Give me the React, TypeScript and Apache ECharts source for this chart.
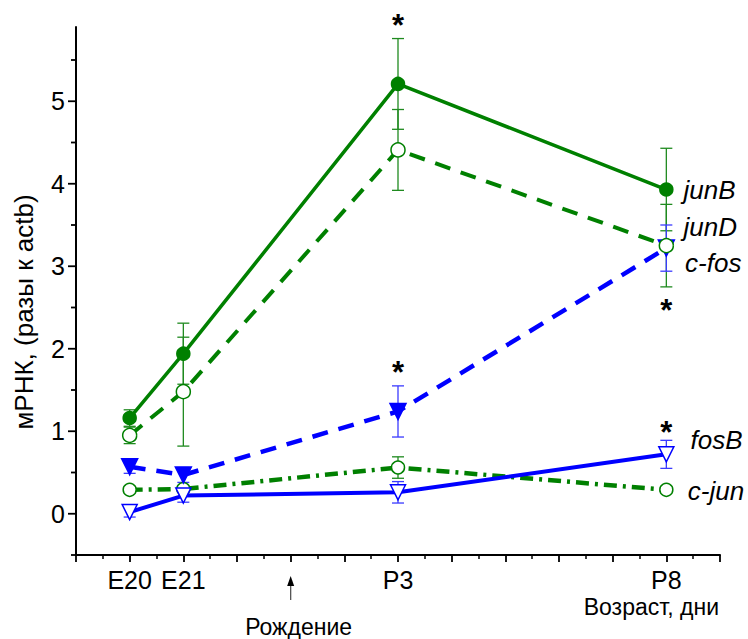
import React, { useEffect, useRef } from "react";
import * as echarts from "echarts";

// ---- data ----
const xValues = [0, 1, 5, 10];
const xTickValues = [0, 1, 5, 10];
const xTickLabels = ["E20", "E21", "P3", "P8"];
const yTickValues = [-0.5, 0, 0.5, 1, 1.5, 2, 2.5, 3, 3.5, 4, 4.5, 5, 5.5];

const junB = [1.16, 1.94, 5.21, 3.93];
const junBErr = [0.1, 0.37, 0.55, 0.5];
const junD = [0.95, 1.48, 4.41, 3.25];
const junDErr = [0.1, 0.66, 0.49, 0.5];
const cFos = [0.57, 0.47, 1.24, 3.22];
const cFosErr = [0.08, 0.09, 0.31, 0.28];
const fosB = [0.02, 0.22, 0.26, 0.72];
const fosBErr = [0.06, 0.08, 0.13, 0.17];
const cJun = [0.29, 0.3, 0.56, 0.29];
const cJunErr = [0.03, 0.03, 0.13, 0.03];

const seriesNames = ["junB", "junD", "c-fos", "fosB", "c-jun"];
const nameLabelX = [10.32, 10.32, 10.35, 10.45, 10.4];
const nameLabelY = [3.92, 3.47, 3.04, 0.9, 0.28];

const starX = [5, 5, 10, 10];
const starY = [6.01, 1.81, 2.56, 1.08];

const birthX = [3];
const birthLabel = "Рождение";
const xTitle = "Возраст, дни";
const yTitle = "мРНК, (разы к actb)";

const X_MIN = -1;
const X_MAX = 11;
const Y_MIN = -0.5;
const Y_MAX = 5.9;

const GREEN = "#008000";
const BLUE = "#0000ff";
const FONT = "'Liberation Sans', Arial, sans-serif";

function lineSeries(
  name: string,
  vals: number[],
  color: string,
  type: any,
  width: number,
  symbol: string,
  rotate: number,
  size: number,
  filled: boolean
) {
  return {
    name,
    type: "line",
    data: xValues.map((x, i) => [x, vals[i]]),
    symbol,
    symbolRotate: rotate,
    symbolSize: size,
    showSymbol: true,
    z: 5,
    lineStyle: { color, width, type },
    itemStyle: {
      color: filled ? color : "#ffffff",
      borderColor: color,
      borderWidth: 1.5,
    },
  };
}

function errorSeries(vals: number[], errs: number[], color: string) {
  return {
    type: "custom",
    z: 3,
    data: xValues.map((x, i) => [x, vals[i], errs[i]]),
    renderItem: (_p: any, api: any) => {
      const x = api.value(0);
      const y = api.value(1);
      const e = api.value(2);
      const top = api.coord([x, y + e]);
      const bot = api.coord([x, y - e]);
      const hw = 6;
      const st = { stroke: color, lineWidth: 1.3 };
      return {
        type: "group",
        children: [
          { type: "line", shape: { x1: top[0], y1: top[1], x2: bot[0], y2: bot[1] }, style: st },
          { type: "line", shape: { x1: top[0] - hw, y1: top[1], x2: top[0] + hw, y2: top[1] }, style: st },
          { type: "line", shape: { x1: bot[0] - hw, y1: bot[1], x2: bot[0] + hw, y2: bot[1] }, style: st },
        ],
      };
    },
  };
}

export default function App() {
  const ref = useRef<HTMLDivElement>(null);

  useEffect(() => {
    if (!ref.current) return;
    const chart = echarts.init(ref.current, null, { renderer: "svg" });
    const option: any = {
      animation: false,
      backgroundColor: "#ffffff",
      grid: { left: 76, right: 28, top: 27, bottom: 84, containLabel: false },
      xAxis: {
        type: "value",
        min: X_MIN,
        max: X_MAX,
        interval: 1,
        splitLine: { show: false },
        axisLine: { onZero: false, lineStyle: { color: "#000", width: 2 } },
        axisTick: { length: 7, lineStyle: { color: "#000", width: 1.8 } },
        minorTick: { show: true, splitNumber: 2, length: 4, lineStyle: { color: "#000", width: 1.5 } },
        minorSplitLine: { show: false },
        axisLabel: {
          color: "#000",
          fontSize: 25,
          fontFamily: FONT,
          margin: 12,
          formatter: (v: number) => {
            const i = xTickValues.findIndex((t) => Math.abs(t - v) < 1e-6);
            return i >= 0 ? xTickLabels[i] : "";
          },
        },
      },
      yAxis: {
        type: "value",
        min: Y_MIN,
        max: Y_MAX,
        interval: 0.5,
        splitLine: { show: false },
        axisLine: { onZero: false, lineStyle: { color: "#000", width: 2 } },
        axisTick: { show: false },
        axisLabel: {
          color: "#000",
          fontSize: 25,
          fontFamily: FONT,
          margin: 11,
          formatter: (v: number) => (Math.abs(v - Math.round(v)) < 1e-6 ? String(Math.round(v)) : ""),
        },
      },
      graphic: [
        {
          type: "text",
          x: 24,
          y: 312,
          rotation: Math.PI / 2,
          style: {
            text: yTitle,
            font: `26px ${FONT}`,
            fill: "#000",
            align: "center",
            verticalAlign: "middle",
          },
        },
        {
          type: "text",
          x: 719,
          y: 607,
          style: {
            text: xTitle,
            font: `23px ${FONT}`,
            fill: "#000",
            align: "right",
            verticalAlign: "middle",
          },
        },
      ],
      series: [
        // y-axis ticks
        {
          type: "custom",
          z: 2,
          data: yTickValues.map((v) => [X_MIN, v]),
          renderItem: (_p: any, api: any) => {
            const v = api.value(1);
            const p = api.coord([X_MIN, v]);
            const major = Math.abs(v - Math.round(v)) < 1e-6;
            const len = major ? 8 : 5;
            return {
              type: "line",
              shape: { x1: p[0] - len, y1: p[1], x2: p[0], y2: p[1] },
              style: { stroke: "#000", lineWidth: 1.8 },
            };
          },
        },
        errorSeries(junB, junBErr, "#1f8a1f"),
        errorSeries(junD, junDErr, "#1f8a1f"),
        errorSeries(cFos, cFosErr, "#3b3bff"),
        errorSeries(fosB, fosBErr, "#3b3bff"),
        errorSeries(cJun, cJunErr, "#1f8a1f"),
        lineSeries("c-jun", cJun, GREEN, [13, 6, 3, 6], 4.5, "circle", 0, 13, false),
        lineSeries("fosB", fosB, BLUE, "solid", 4, "triangle", 180, 15, false),
        lineSeries("c-fos", cFos, BLUE, [16, 11], 4.5, "triangle", 180, 16, true),
        lineSeries("junD", junD, GREEN, [16, 11], 4, "circle", 0, 14, false),
        lineSeries("junB", junB, GREEN, "solid", 3.5, "circle", 0, 13, true),
        // series name labels
        {
          type: "custom",
          z: 6,
          data: seriesNames.map((n, i) => [nameLabelX[i], nameLabelY[i], i]),
          renderItem: (_p: any, api: any) => {
            const p = api.coord([api.value(0), api.value(1)]);
            const i = api.value(2);
            return {
              type: "text",
              x: p[0],
              y: p[1],
              style: {
                text: seriesNames[i],
                font: `italic 26px ${FONT}`,
                fill: "#000",
                align: "left",
                verticalAlign: "middle",
              },
            };
          },
        },
        // significance stars
        {
          type: "custom",
          z: 6,
          data: starX.map((x, i) => [x, starY[i]]),
          renderItem: (_p: any, api: any) => {
            const p = api.coord([api.value(0), api.value(1)]);
            return {
              type: "text",
              x: p[0],
              y: p[1] + 8,
              style: {
                text: "*",
                font: `bold 31px ${FONT}`,
                fill: "#000",
                align: "center",
                verticalAlign: "middle",
              },
            };
          },
        },
        // birth arrow
        {
          type: "custom",
          z: 6,
          data: birthX.map((x) => [x, Y_MIN]),
          renderItem: (_p: any, api: any) => {
            const p = api.coord([api.value(0), Y_MIN]);
            return {
              type: "group",
              children: [
                {
                  type: "line",
                  shape: { x1: p[0], y1: p[1] + 28, x2: p[0], y2: p[1] + 45 },
                  style: { stroke: "#555", lineWidth: 1.3 },
                },
                {
                  type: "polygon",
                  shape: {
                    points: [
                      [p[0], p[1] + 21],
                      [p[0] - 3.5, p[1] + 31],
                      [p[0] + 3.5, p[1] + 31],
                    ],
                  },
                  style: { fill: "#000" },
                },
                {
                  type: "text",
                  x: p[0] + 8,
                  y: p[1] + 72,
                  style: {
                    text: birthLabel,
                    font: `23px ${FONT}`,
                    fill: "#000",
                    align: "center",
                    verticalAlign: "middle",
                  },
                },
              ],
            };
          },
        },
      ],
    };
    chart.setOption(option);
    return () => chart.dispose();
  }, []);

  return (
    <div
      ref={ref}
      style={{ position: "fixed", left: 0, top: 0, width: 748, height: 639, background: "#fff" }}
    />
  );
}
